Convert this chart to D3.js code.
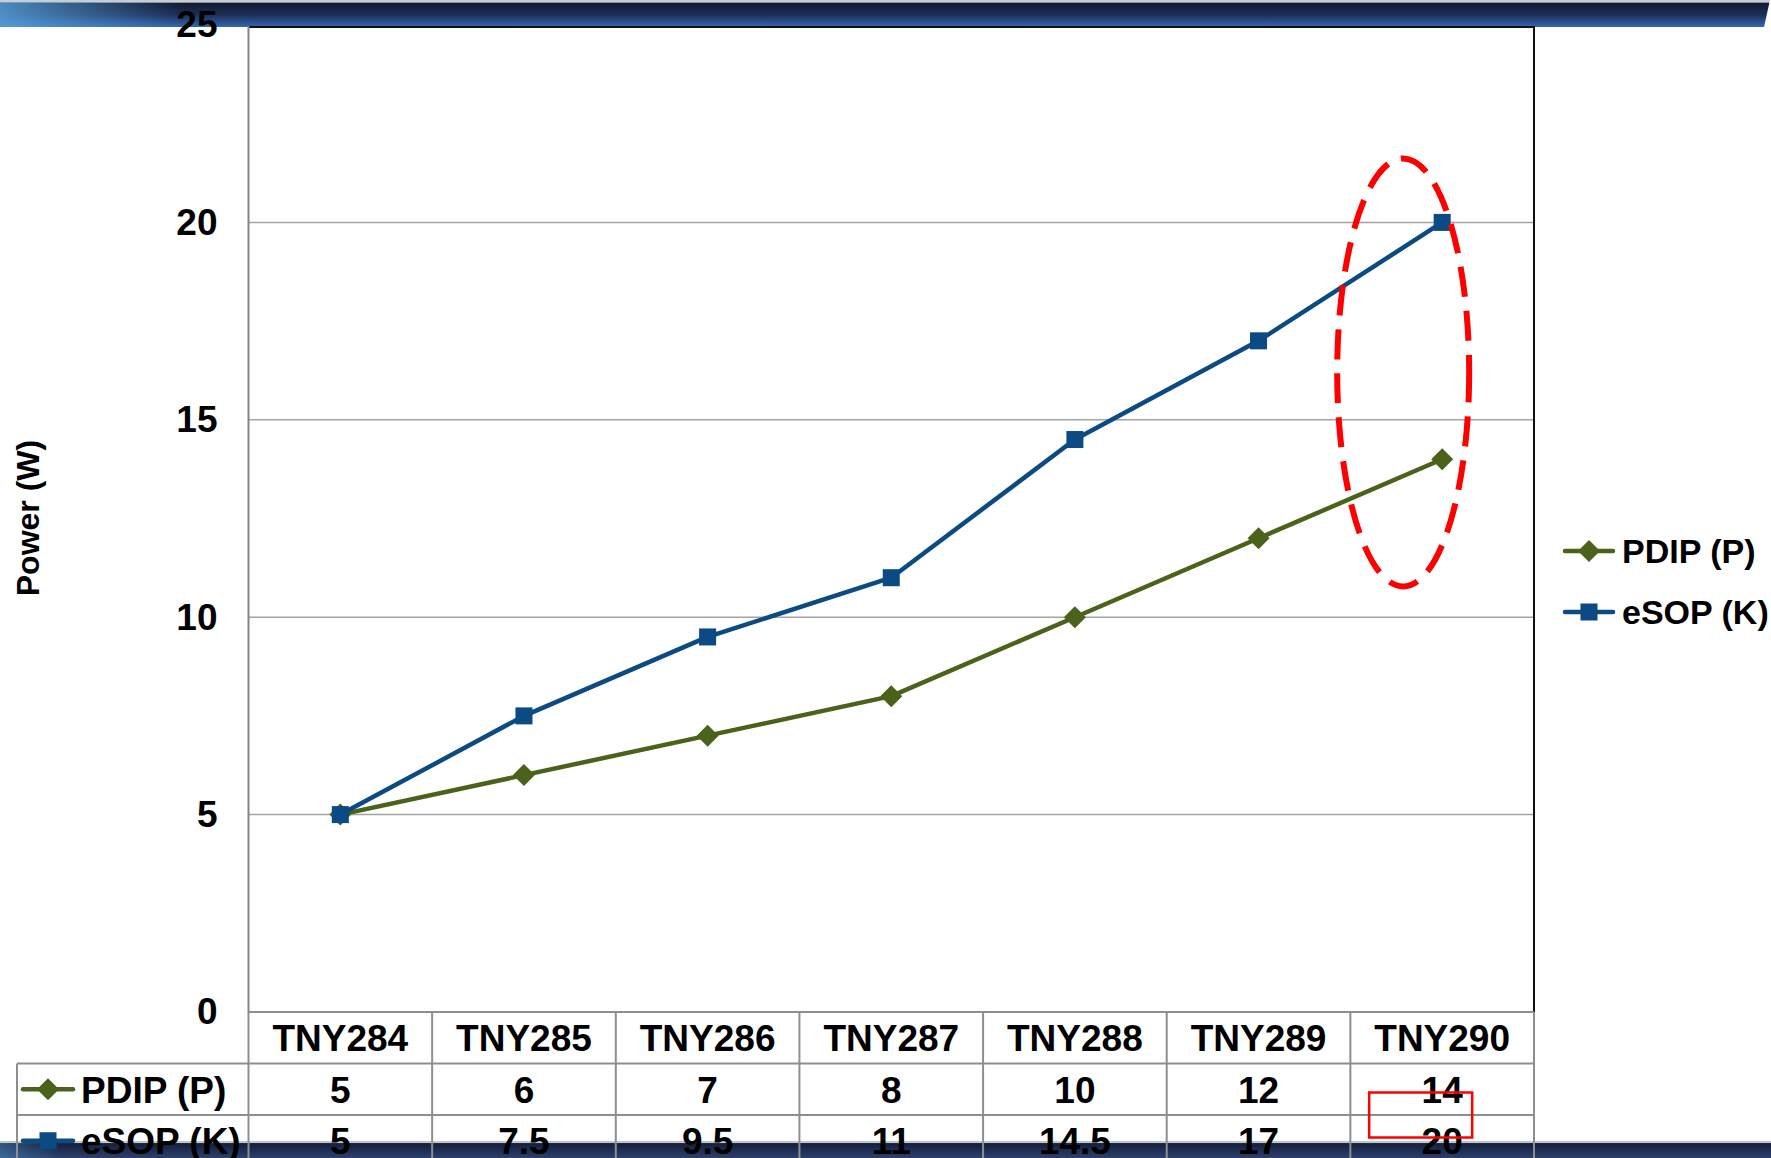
<!DOCTYPE html>
<html>
<head>
<meta charset="utf-8">
<script src="https://cdn.jsdelivr.net/npm/d3@7/dist/d3.min.js"></script>
<style>
html,body{margin:0;padding:0;background:#fff;overflow:hidden;}
text{font-family:"Liberation Sans",Arial,sans-serif;font-weight:bold;fill:#000;}
</style>
</head>
<body>
<div id="chart"></div>
<script>
var categories = ["TNY284","TNY285","TNY286","TNY287","TNY288","TNY289","TNY290"];
var pdipValues = [5,6,7,8,10,12,14];
var esopValues = [5,7.5,9.5,11,14.5,17,20];
var yTicks = [0,5,10,15,20,25];
var yTitle = "Power (W)";

var series = [
  {name:"PDIP (P)", values:pdipValues, color:"#4a621a", marker:"diamond"},
  {name:"eSOP (K)", values:esopValues, color:"#0b4a82", marker:"square"}
];

var W = 1771, H = 1158;
var plotL = 248.5, plotR = 1534, plotT = 25, plotB = 1012;
var rowH = 51.5, fs = 37, legendFs = 34;

var svg = d3.select("#chart")
            .append("svg")
            .attr("width", W)
            .attr("height", H);

var defs = svg.append("defs");
var gTop = defs.append("linearGradient").attr("id","bannerTop").attr("x1",0).attr("y1",0).attr("x2",0).attr("y2",1);
gTop.append("stop").attr("offset","0").attr("stop-color","#c9ccd3");
gTop.append("stop").attr("offset","0.08").attr("stop-color","#c9ccd3");
gTop.append("stop").attr("offset","0.12").attr("stop-color","#111b33");
gTop.append("stop").attr("offset","0.55").attr("stop-color","#1d2f58");
gTop.append("stop").attr("offset","1").attr("stop-color","#3467b3");
var gLeft = defs.append("linearGradient").attr("id","bannerLeft").attr("x1",0).attr("y1",0).attr("x2",1).attr("y2",0);
gLeft.append("stop").attr("offset","0").attr("stop-color","#5aa6e0").attr("stop-opacity",0.8);
gLeft.append("stop").attr("offset","1").attr("stop-color","#5aa6e0").attr("stop-opacity",0);
var gBot = defs.append("linearGradient").attr("id","bannerBot").attr("x1",0).attr("y1",0).attr("x2",0).attr("y2",1);
gBot.append("stop").attr("offset","0").attr("stop-color","#c0c4cc");
gBot.append("stop").attr("offset","0.1").attr("stop-color","#c0c4cc");
gBot.append("stop").attr("offset","0.15").attr("stop-color","#141f3a");
gBot.append("stop").attr("offset","1").attr("stop-color","#2c406c");

// banners
svg.append("path").attr("d","M0,0L1770,0L1764,27L0,27Z").style("fill","url(#bannerTop)");
svg.append("rect").attr("x",0).attr("y",2).attr("width",180).attr("height",25).style("fill","url(#bannerLeft)");
svg.append("rect").attr("x",0).attr("y",1141).attr("width",W).attr("height",17).style("fill","url(#bannerBot)");
svg.append("rect").attr("x",0).attr("y",1143).attr("width",60).attr("height",15).style("fill","url(#bannerLeft)").style("opacity",0.5);

var x = d3.scaleBand()
          .domain(categories)
          .range([plotL, plotR]);
var y = d3.scaleLinear()
          .domain([0, 25])
          .range([plotB, plotT]);
var cx = function(c){ return x(c) + x.bandwidth()/2; };

// plot area
svg.append("rect")
   .attr("x",plotL).attr("y",y(25)+2)
   .attr("width",plotR-plotL).attr("height",plotB-y(25)-2)
   .style("fill","#fff");

svg.selectAll(".grid")
   .data(yTicks.filter(function(d){ return d>0 && d<25; }))
   .enter().append("line")
   .attr("x1",plotL).attr("x2",plotR)
   .attr("y1",function(d){ return y(d); })
   .attr("y2",function(d){ return y(d); })
   .style("stroke","#a3a3a3").style("stroke-width",1.5);

svg.append("line").attr("x1",plotL).attr("x2",plotR).attr("y1",y(25)+2).attr("y2",y(25)+2)
   .style("stroke","#111").style("stroke-width",2);
svg.append("line").attr("x1",plotR).attr("x2",plotR).attr("y1",y(25)+1).attr("y2",plotB)
   .style("stroke","#111").style("stroke-width",2);
svg.append("line").attr("x1",plotL).attr("x2",plotL).attr("y1",y(25)+1).attr("y2",plotB)
   .style("stroke","#858585").style("stroke-width",2);

// y axis
var yAxis = svg.append("g")
               .attr("transform","translate("+plotL+",0)")
               .call(d3.axisLeft(y).tickValues(yTicks).tickSize(0).tickPadding(31));
yAxis.select(".domain").remove();
yAxis.selectAll("text")
     .attr("font-family",null)
     .style("font-size",fs+"px")
     .attr("fill","#000");

svg.append("text")
   .attr("transform","translate(39,518) rotate(-90)")
   .attr("text-anchor","middle")
   .style("font-size","32px")
   .text(yTitle);

// data table
var tableL = 17, tableB = H+10;
var lineStyle = function(sel){ return sel.style("stroke","#8e8e8e").style("stroke-width",2); };

lineStyle(svg.append("line").attr("x1",plotL).attr("x2",plotR).attr("y1",plotB).attr("y2",plotB));
for(var r=1;r<=2;r++){
  lineStyle(svg.append("line").attr("x1",tableL).attr("x2",plotR)
     .attr("y1",plotB+r*rowH).attr("y2",plotB+r*rowH));
}
lineStyle(svg.append("line").attr("x1",tableL).attr("x2",tableL).attr("y1",plotB+rowH).attr("y2",tableB));
svg.selectAll(".vsep")
   .data(categories)
   .enter().append("line")
   .attr("x1",function(d){ return x(d); })
   .attr("x2",function(d){ return x(d); })
   .attr("y1",plotB).attr("y2",tableB)
   .style("stroke","#8e8e8e").style("stroke-width",2);
lineStyle(svg.append("line").attr("x1",plotR).attr("x2",plotR).attr("y1",plotB).attr("y2",tableB));

svg.selectAll(".cat")
   .data(categories)
   .enter().append("text")
   .attr("x",cx)
   .attr("y",plotB+rowH/2)
   .attr("dy","0.36em")
   .attr("text-anchor","middle")
   .style("font-size",fs+"px")
   .text(function(d){ return d; });

var drawMarker = function(g, s, px, py){
  if(s.marker=="diamond"){
    var d = 11;
    g.append("path")
     .attr("d","M"+px+","+(py-d)+"L"+(px+d)+","+py+"L"+px+","+(py+d)+"L"+(px-d)+","+py+"Z")
     .style("fill",s.color);
  }else{
    g.append("rect")
     .attr("x",px-8.5).attr("y",py-8.5)
     .attr("width",17).attr("height",17)
     .style("fill",s.color);
  }
};

var drawKey = function(g, s, x0, x1, py){
  g.append("line")
   .attr("x1",x0).attr("x2",x1).attr("y1",py).attr("y2",py)
   .style("stroke",s.color).style("stroke-width",4.5).style("stroke-linecap","round");
  drawMarker(g, s, (x0+x1)/2, py);
};

series.forEach(function(s, i){
  var rowY = plotB + rowH*(i+1) + rowH/2;
  var row = svg.append("g");
  drawKey(row, s, 23, 73, rowY);
  row.append("text")
     .attr("x",81).attr("y",rowY).attr("dy","0.36em")
     .style("font-size",fs+"px")
     .text(s.name);
  row.selectAll(".val")
     .data(s.values)
     .enter().append("text")
     .attr("x",function(d,k){ return cx(categories[k]); })
     .attr("y",rowY).attr("dy","0.36em")
     .attr("text-anchor","middle")
     .style("font-size",fs+"px")
     .text(function(d){ return String(d); });
});

// lines
var line = d3.line()
             .x(function(d,k){ return cx(categories[k]); })
             .y(function(d){ return y(d); });

series.forEach(function(s){
  var g = svg.append("g");
  g.append("path")
   .datum(s.values)
   .attr("d",line)
   .style("fill","none")
   .style("stroke",s.color)
   .style("stroke-width",4.5)
   .style("stroke-linejoin","round");
  s.values.forEach(function(v,k){
    drawMarker(g, s, cx(categories[k]), y(v));
  });
});

// legend
series.forEach(function(s, i){
  var ly = 551 + i*61;
  var lg = svg.append("g");
  drawKey(lg, s, 1565, 1613, ly);
  lg.append("text")
    .attr("x",1622).attr("y",ly).attr("dy","0.36em")
    .style("font-size",legendFs+"px")
    .text(s.name);
});

// red highlights
var last = categories[categories.length-1];
svg.append("ellipse")
   .attr("cx",cx(last)-39)
   .attr("cy",y(16.2))
   .attr("rx",66).attr("ry",214)
   .style("fill","none")
   .style("stroke","#ff0000")
   .style("stroke-width",6)
   .style("stroke-dasharray","30,14");

svg.append("rect")
   .attr("x",cx(last)-73)
   .attr("y",plotB+rowH+29)
   .attr("width",103).attr("height",45)
   .style("fill","none")
   .style("stroke","#ff0000")
   .style("stroke-width",2.5);
</script>
</body>
</html>
